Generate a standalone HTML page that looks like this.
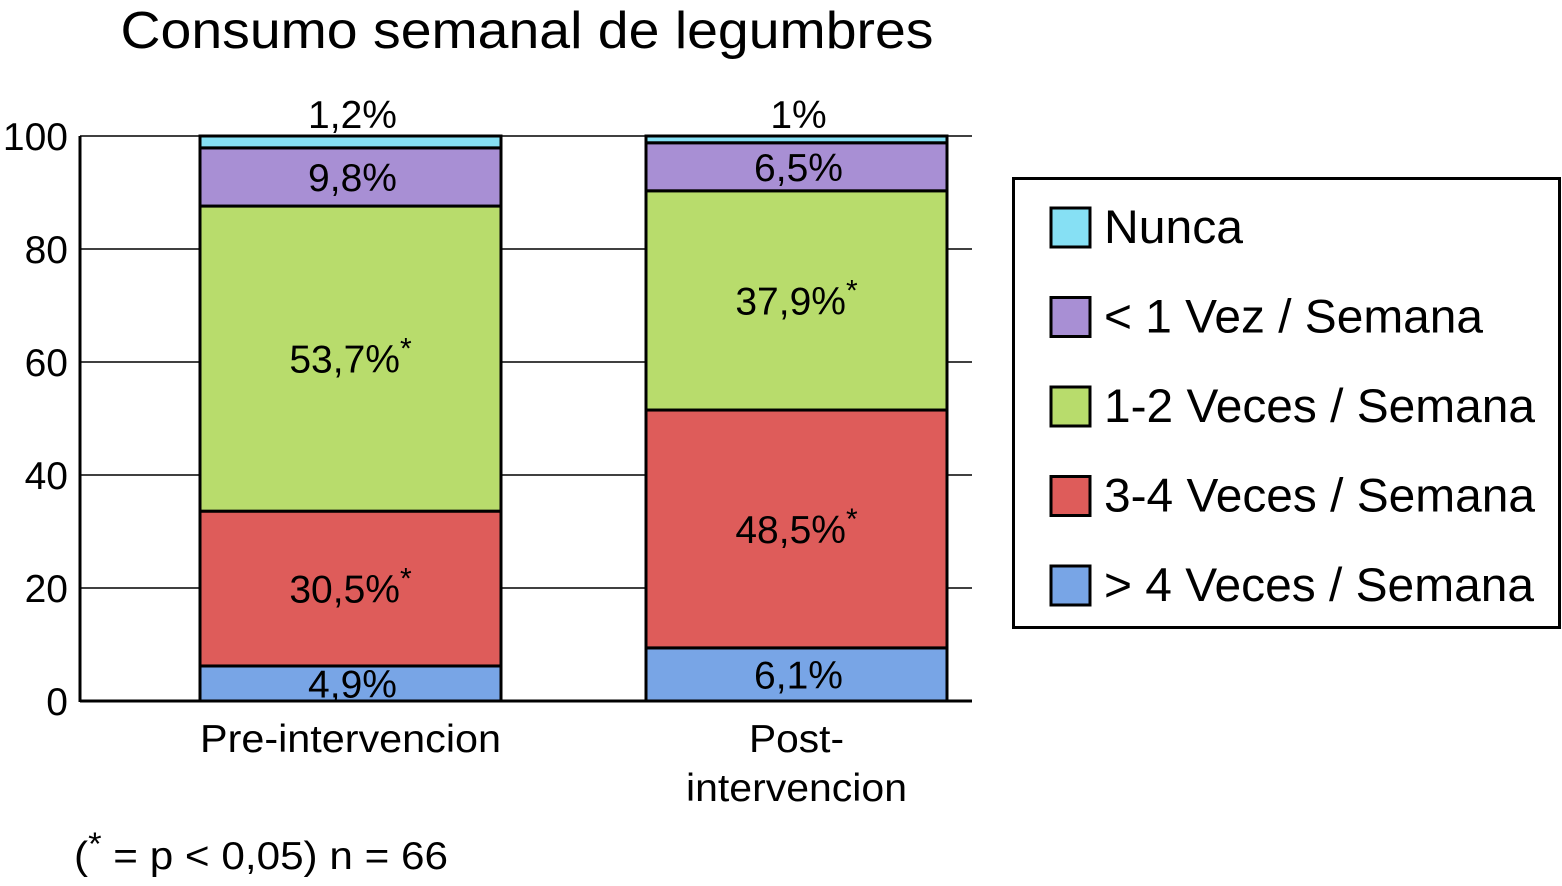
<!DOCTYPE html>
<html><head><meta charset="utf-8"><style>
html,body{margin:0;padding:0;background:#fff;}
svg text{font-family:"Liberation Sans",sans-serif;fill:#000;}
</style></head><body>
<svg id="chart" width="1562" height="881" viewBox="0 0 1562 881" xmlns="http://www.w3.org/2000/svg">
<text x="527" y="48" font-size="52" text-anchor="middle" textLength="813" lengthAdjust="spacingAndGlyphs">Consumo semanal de legumbres</text>
<g id="grid"></g>
<g id="bars"></g>
<g id="legend"></g>
<text x="74" y="869" font-size="39" textLength="374" lengthAdjust="spacingAndGlyphs">(<tspan font-size="32" dy="-14">*</tspan><tspan dy="14"> = p &lt; 0,05) n = 66</tspan></text>
</svg>
<script>
const categories = ["Pre-intervencion", "Post-|intervencion"];
const seriesNames = ["> 4 Veces / Semana", "3-4 Veces / Semana", "1-2 Veces / Semana", "< 1 Vez / Semana", "Nunca"];
const preValues = [6.2, 27.4, 54.0, 10.3, 2.1];
const postValues = [9.4, 42.1, 38.8, 8.5, 1.2];
const preLabels = ["4,9%", "30,5%*", "53,7%*", "9,8%", "1,2%"];
const postLabels = ["6,1%", "48,5%*", "37,9%*", "6,5%", "1%"];
const yTicks = [0, 20, 40, 60, 80, 100];
const colors = ["#78a5e6", "#de5c5a", "#b8dc6c", "#a88fd4", "#86e0f4"];

const NS = "http://www.w3.org/2000/svg";
const plotL = 80, plotR = 972, y0 = 701, y100 = 136;
const y = v => y0 - (v / 100) * (y0 - y100);
const barCenters = [350.5, 796.5], barW = 301;
const catWidths = [[301], [95, 221]];
const legendWidths = [430, 431, 431, 379, 139];
function mk(tag, attrs, parent) { const e = document.createElementNS(NS, tag); for (const k in attrs) e.setAttribute(k, attrs[k]); parent.appendChild(e); return e; }

const grid = document.getElementById('grid');
yTicks.forEach(t => {
  const l = mk('line', {x1: plotL, x2: plotR, y1: y(t), y2: y(t), stroke: '#000', 'stroke-width': 1.5}, grid);
  
  
  const tx = mk('text', {x: 68, y: y(t) + 14, 'font-size': 39, 'text-anchor': 'end'}, grid);
  tx.textContent = t;
  
  
});
const ax = mk('line', {x1: plotL, x2: plotL, y1: y100, y2: y0 + 1, stroke: '#000', 'stroke-width': 3}, grid);


const bx = mk('line', {x1: plotL, x2: plotR, y1: y0, y2: y0, stroke: '#000', 'stroke-width': 3}, grid);



const bars = document.getElementById('bars');
[[preValues, preLabels], [postValues, postLabels]].forEach(([vals, labs], ci) => {
  let cum = 0;
  const x = barCenters[ci] - barW / 2;
  vals.forEach((v, si) => {
    const top = y(cum + v), bot = y(cum);
    const r = mk('rect', {x: x, y: top, width: barW, height: bot - top, fill: colors[si], stroke: '#000', 'stroke-width': 3}, bars);
    
    
    cum += v;
  });
  cum = 0;
  vals.forEach((v, si) => {
    let ly = (y(cum) + y(cum + v)) / 2 + 14;
    if (si === 4) ly = y(100) - 8;
    const lab = labs[si];
    const star = lab.endsWith('*');
    const t = mk('text', {x: barCenters[ci] + (star ? 0 : 2), y: ly, 'font-size': 39, 'text-anchor': 'middle'}, bars);
    t.textContent = star ? lab.slice(0, -1) : lab;
    if (star) { const s = mk('tspan', {'font-size': 30, dy: -14}, t); s.textContent = '*'; }
    
    
    cum += v;
  });
  const parts = categories[ci].split('|');
  parts.forEach((p, pi) => {
    const t = mk('text', {x: barCenters[ci], y: 752 + pi * 49, 'font-size': 39, 'text-anchor': 'middle', textLength: catWidths[ci][pi], lengthAdjust: 'spacingAndGlyphs'}, bars);
    t.textContent = p;
    
    
  });
});

const leg = document.getElementById('legend');
const box = mk('rect', {x: 1013.5, y: 178.5, width: 546, height: 449, fill: '#fff', stroke: '#000', 'stroke-width': 3}, leg);


for (let i = 4; i >= 0; i--) {
  const row = 4 - i;
  const cy = 227 + row * 89.5;
  const g = mk('g', {}, leg);
  
  
  const sw = mk('rect', {x: 1051, y: cy - 19, width: 39, height: 39, fill: colors[i], stroke: '#000', 'stroke-width': 3}, g);
  
  
  const t = mk('text', {x: 1104, y: cy + 16, 'font-size': 47, textLength: legendWidths[i], lengthAdjust: 'spacingAndGlyphs'}, g);
  t.textContent = seriesNames[i];
  
  
}
</script>
</body></html>
